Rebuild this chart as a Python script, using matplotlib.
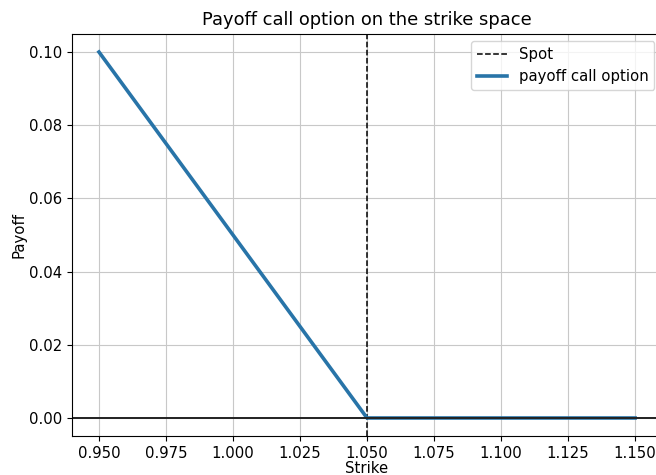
import matplotlib
matplotlib.use("Agg")
import matplotlib.pyplot as plt

# data
strikes = [0.95, 1.00, 1.05, 1.10, 1.15]
payoffs = [0.10, 0.05, 0.00, 0.00, 0.00]
spot = 1.05

plt.rcParams.update({'font.size': 10.7})

fig = plt.figure(figsize=(6.56, 4.75), dpi=100)
# axes runs slightly past the right edge, as in the reference crop
ax = fig.add_axes([0.110, 0.0815, 0.899, 0.8476])

ax.axvline(spot, color='black', linestyle='--', linewidth=1.1, label='Spot')
ax.plot(strikes, payoffs, color='#2874a8', linewidth=2.6, label='payoff call option')
ax.axhline(0, color='#222222', linewidth=1.4)

ax.set_xticks([0.95, 0.975, 1.0, 1.025, 1.05, 1.075, 1.1, 1.125, 1.15])
ax.set_xlabel('Strike', labelpad=0)
ax.set_ylabel('Payoff', labelpad=2)
ax.set_title('Payoff call option on the strike space')
ax.grid(True, color='#c8c8c8')
ax.legend(loc='upper right')

fig.savefig('out.png', dpi=100)
